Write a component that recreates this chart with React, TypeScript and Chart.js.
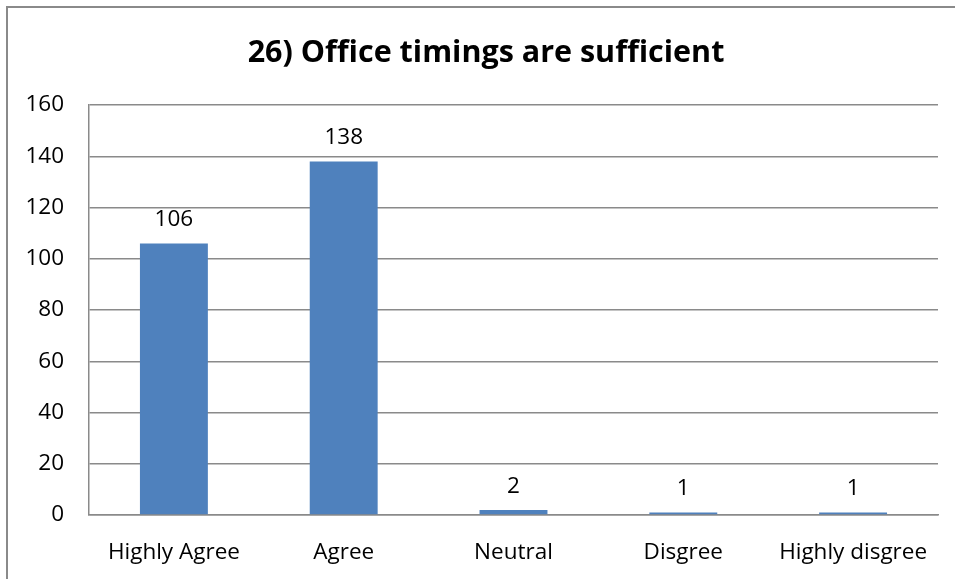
import React, { useEffect, useRef } from "react";
import { Chart, registerables } from "chart.js";

Chart.register(...registerables);

const categories = ["Highly Agree", "Agree", "Neutral", "Disgree", "Highly disgree"];
const values = [106, 138, 2, 1, 1];
const titleText = "26) Office timings are sufficient";
const yMin = 0;
const yMax = 160;
const yStep = 20;

const FONT = "'Open Sans', 'Noto Sans', sans-serif";
const TEXT_SIZE = 22.5;

const framePlugin = {
  id: "frame",
  beforeDraw(chart: any) {
    const ctx = chart.ctx;
    ctx.save();
    ctx.fillStyle = "#ffffff";
    ctx.fillRect(0, 0, chart.width, chart.height);
    ctx.strokeStyle = "#8a8a8a";
    ctx.lineWidth = 2;
    ctx.strokeRect(7, 7, chart.width + 20, chart.height + 20);
    ctx.fillStyle = "#000000";
    ctx.font = `bold 30.5px ${FONT}`;
    ctx.textAlign = "center";
    ctx.textBaseline = "alphabetic";
    ctx.fillText(titleText, 486, 62);
    ctx.restore();
  },
  afterDatasetsDraw(chart: any) {
    const ctx = chart.ctx;
    const meta = chart.getDatasetMeta(0);
    ctx.save();
    ctx.fillStyle = "#000000";
    ctx.font = `${TEXT_SIZE}px ${FONT}`;
    ctx.textAlign = "center";
    ctx.textBaseline = "alphabetic";
    meta.data.forEach((bar: any, i: number) => {
      ctx.fillText(String(values[i]), bar.x, bar.y - 17);
    });
    ctx.restore();
  },
};

export default function App() {
  const ref = useRef<HTMLCanvasElement | null>(null);
  useEffect(() => {
    if (!ref.current) return;
    const chart = new Chart(ref.current, {
      type: "bar",
      data: {
        labels: categories,
        datasets: [
          {
            data: values,
            backgroundColor: "#4f81bd",
            borderWidth: 0,
            categoryPercentage: 1,
            barPercentage: 0.4,
          },
        ],
      },
      options: {
        responsive: false,
        animation: false,
        layout: { padding: { top: 105, right: 17, bottom: 0, left: 0 } },
        plugins: {
          legend: { display: false },
          title: { display: false },
          tooltip: { enabled: false },
        },
        scales: {
          x: {
            grid: { display: false, drawTicks: false },
            border: { display: true, color: "#8a8a8a", width: 1.5 },
            ticks: {
              color: "#000000",
              font: { family: FONT, size: TEXT_SIZE },
              padding: 24,
              maxRotation: 0,
              autoSkip: false,
            },
            afterFit(scale: any) {
              scale.height = 64;
            },
          },
          y: {
            min: yMin,
            max: yMax,
            grid: { color: "#8a8a8a", lineWidth: 1.5, drawTicks: false },
            border: { display: true, color: "#8a8a8a", width: 1.5 },
            ticks: {
              stepSize: yStep,
              color: "#000000",
              font: { family: FONT, size: TEXT_SIZE },
              padding: 25,
            },
            afterFit(scale: any) {
              scale.width = 89;
            },
          },
        },
      },
      plugins: [framePlugin],
    });
    return () => chart.destroy();
  }, []);
  return (
    <div style={{ position: "fixed", left: 0, top: 0, width: 955, height: 579 }}>
      <canvas ref={ref} width={955} height={579} style={{ display: "block" }} />
    </div>
  );
}
